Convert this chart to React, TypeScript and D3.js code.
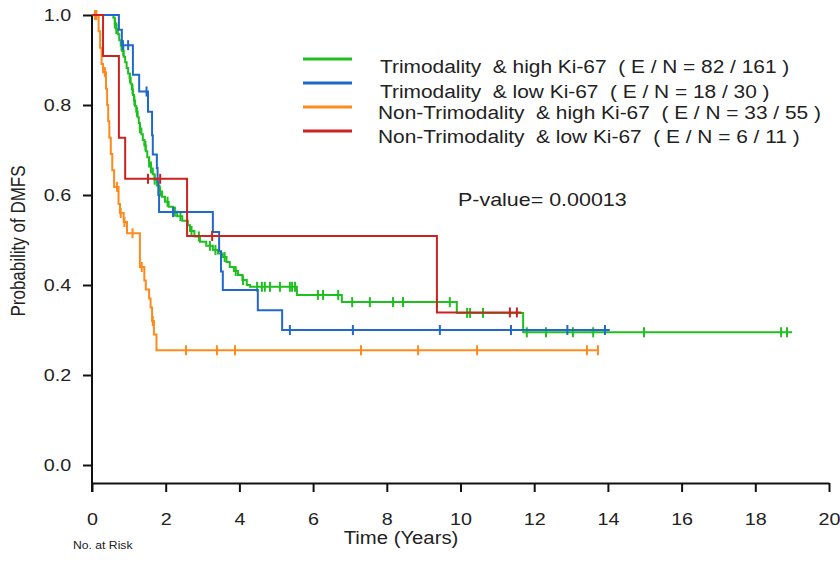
import { useEffect, useRef } from "react";
import * as d3 from "d3";

// Kaplan-Meier step points [time in years, survival]
const greenSteps: [number, number][] = [
  [0, 1], [0.58, 0.994], [0.62, 0.981], [0.66, 0.969], [0.7, 0.957], [0.74, 0.944], [0.78, 0.932],
  [0.82, 0.92], [0.86, 0.907], [0.9, 0.895], [0.94, 0.882], [0.98, 0.87], [1.02, 0.86], [1.05, 0.847],
  [1.08, 0.835], [1.11, 0.822], [1.14, 0.81], [1.17, 0.798], [1.2, 0.785], [1.24, 0.773], [1.27, 0.76],
  [1.3, 0.748], [1.34, 0.735], [1.38, 0.722], [1.42, 0.71], [1.46, 0.697], [1.5, 0.684], [1.55, 0.672],
  [1.6, 0.659], [1.65, 0.646], [1.7, 0.634], [1.76, 0.621], [1.83, 0.608], [1.9, 0.596], [1.98, 0.585],
  [2.08, 0.574], [2.2, 0.563], [2.31, 0.553], [2.45, 0.543], [2.6, 0.533], [2.66, 0.52], [2.78, 0.508],
  [2.93, 0.496], [3.1, 0.487], [3.28, 0.478], [3.42, 0.47], [3.55, 0.462], [3.65, 0.451], [3.74, 0.44],
  [3.85, 0.431], [3.96, 0.422], [4.08, 0.411], [4.2, 0.4], [4.29, 0.396], [5.56, 0.378], [6.78, 0.362],
  [9.9, 0.338], [11.7, 0.295],
];
const greenCensor = [
  0.62, 0.66, 0.8, 0.85, 1.03, 1.1, 1.15, 1.22, 1.3, 1.45, 1.55, 1.6, 1.7, 1.85, 2.05, 2.25, 2.4, 2.7,
  2.9, 3.2, 3.35, 3.6, 3.9, 4.1, 4.48, 4.61, 4.69, 4.83, 5.1, 5.37, 5.43, 5.51, 6.13, 6.27, 6.68, 7.06,
  7.54, 8.17, 8.44, 9.36, 9.71, 10.18, 10.26, 10.61, 11.8, 12.32, 13.05, 13.6, 14.98, 18.7, 18.86,
];
const greenEnd = 19.0;

const blueSteps: [number, number][] = [
  [0, 1], [0.73, 0.967], [0.81, 0.933], [1.11, 0.867], [1.28, 0.83], [1.52, 0.785], [1.63, 0.733],
  [1.65, 0.69], [1.76, 0.66], [1.78, 0.63], [1.8, 0.6], [1.82, 0.562], [3.28, 0.518], [3.45, 0.475],
  [3.5, 0.43], [3.55, 0.389], [4.5, 0.344], [5.16, 0.3],
];
const blueCensor = [0.84, 0.98, 1.48, 2.2, 5.37, 7.08, 9.44, 11.37, 12.9, 13.92];
const blueEnd = 14.05;

const orangeSteps: [number, number][] = [
  [0, 1], [0.18, 0.964], [0.22, 0.927], [0.26, 0.891], [0.3, 0.873], [0.38, 0.836], [0.41, 0.8],
  [0.44, 0.764], [0.47, 0.727], [0.51, 0.691], [0.55, 0.655], [0.6, 0.618], [0.72, 0.58], [0.76, 0.56],
  [0.86, 0.54], [0.95, 0.515], [1.3, 0.44], [1.42, 0.41], [1.46, 0.39], [1.55, 0.37], [1.59, 0.35],
  [1.63, 0.32], [1.68, 0.29], [1.75, 0.255],
];
const orangeCensor = [0.08, 0.12, 0.35, 0.68, 0.78, 0.88, 1.1, 1.35, 1.65, 2.55, 3.39, 3.88, 7.3, 8.85, 10.45, 13.43, 13.73];
const orangeEnd = 13.75;

const redSteps: [number, number][] = [
  [0, 1], [0.3, 0.909], [0.73, 0.727], [0.9, 0.636], [2.58, 0.509], [9.36, 0.339],
];
const redCensor = [1.52, 1.85, 3.26, 11.34, 11.53];
const redEnd = 11.65;

const legendLabels = [
  "Trimodality  & high Ki-67  ( E / N = 82 / 161 )",
  "Trimodality  & low Ki-67  ( E / N = 18 / 30 )",
  "Non-Trimodality  & high Ki-67  ( E / N = 33 / 55 )",
  "Non-Trimodality  & low Ki-67  ( E / N = 6 / 11 )",
];
const seriesColors = ["#1fbf1f", "#2068cc", "#ff8a1c", "#cc2222"];
const xTicks = [0, 2, 4, 6, 8, 10, 12, 14, 16, 18, 20];
const yTicks = [0, 0.2, 0.4, 0.6, 0.8, 1.0];

const STRETCH = 1.16; // text in the figure is a bit wide
const FONT = "'Liberation Sans', Arial, sans-serif";

export default function App() {
  const svgRef = useRef<SVGSVGElement>(null);

  useEffect(() => {
    const svg = d3.select(svgRef.current);
    svg.selectAll("*").remove();

    const x = d3.scaleLinear().domain([0, 20]).range([92, 829]);
    const y = d3.scaleLinear().domain([0, 1]).range([465, 15]);
    const axisY = 483;

    // axes
    const xAxis = svg.append("g")
      .attr("transform", `translate(0,${axisY})`)
      .call(d3.axisBottom(x).tickValues(xTicks).tickSize(9).tickSizeOuter(0).tickPadding(21).tickFormat(d3.format("d")));
    xAxis.select(".domain").attr("stroke", "#111").attr("stroke-width", 2);
    xAxis.selectAll(".tick line").attr("stroke", "#111").attr("stroke-width", 2);
    xAxis.selectAll(".tick text")
      .attr("fill", "#222").style("font-family", FONT).style("font-size", "17px")
      .attr("transform", `scale(${STRETCH},1)`);

    const yAxis = svg.append("g")
      .attr("transform", `translate(${x(0)},0)`)
      .call(d3.axisLeft(y).tickValues(yTicks).tickSize(9).tickSizeOuter(0).tickPadding(9).tickFormat(d3.format(".1f")));
    yAxis.select(".domain").remove();
    yAxis.selectAll(".tick line").attr("stroke", "#111").attr("stroke-width", 2);
    yAxis.selectAll(".tick text")
      .attr("fill", "#222").style("font-family", FONT).style("font-size", "17px")
      .attr("transform", `scale(${STRETCH},1)`);
    svg.append("line")
      .attr("x1", x(0)).attr("x2", x(0)).attr("y1", y(1)).attr("y2", axisY + 9)
      .attr("stroke", "#111").attr("stroke-width", 2);

    // curves
    const series = [
      { steps: greenSteps, censor: greenCensor, end: greenEnd },
      { steps: blueSteps, censor: blueCensor, end: blueEnd },
      { steps: orangeSteps, censor: orangeCensor, end: orangeEnd },
      { steps: redSteps, censor: redCensor, end: redEnd },
    ];
    const line = d3.line<[number, number]>()
      .x(d => x(d[0])).y(d => y(d[1]))
      .curve(d3.curveStepAfter);

    series.forEach((s, i) => {
      const pts: [number, number][] = [...s.steps, [s.end, s.steps[s.steps.length - 1][1]]];
      svg.append("path")
        .attr("d", line(pts))
        .attr("fill", "none")
        .attr("stroke", seriesColors[i])
        .attr("stroke-width", 2);
      // censor ticks sit on the curve value at that time
      const valueAt = (t: number) => {
        let v = 1;
        for (const [st, sv] of s.steps) if (st <= t) v = sv;
        return v;
      };
      svg.append("g").selectAll("line").data(s.censor).join("line")
        .attr("x1", d => x(d)).attr("x2", d => x(d))
        .attr("y1", d => y(valueAt(d)) - 5).attr("y2", d => y(valueAt(d)) + 5)
        .attr("stroke", seriesColors[i])
        .attr("stroke-width", 2);
    });

    // legend
    const legendLineY = [59, 83, 107, 131];
    const legendTextY = [73, 98, 119, 143];
    legendLabels.forEach((label, i) => {
      svg.append("line")
        .attr("x1", 303).attr("x2", 352)
        .attr("y1", legendLineY[i]).attr("y2", legendLineY[i])
        .attr("stroke", seriesColors[i]).attr("stroke-width", 3);
      svg.append("text")
        .attr("transform", `translate(${i < 2 ? 380 : 378},${legendTextY[i]}) scale(${STRETCH},1)`)
        .attr("fill", "#222").style("font-family", FONT).style("font-size", "18px")
        .style("white-space", "pre")
        .text(label);
    });

    svg.append("text")
      .attr("transform", `translate(458,206) scale(${STRETCH},1)`)
      .attr("fill", "#222").style("font-family", FONT).style("font-size", "18.5px")
      .text("P-value= 0.00013");

    // axis titles
    svg.append("text")
      .attr("transform", `translate(401,544) scale(${STRETCH},1)`)
      .attr("text-anchor", "middle")
      .attr("fill", "#222").style("font-family", FONT).style("font-size", "17.5px")
      .text("Time (Years)");

    svg.append("text")
      .attr("transform", `translate(25,241) scale(${STRETCH},1) rotate(-90)`)
      .attr("text-anchor", "middle")
      .attr("fill", "#222").style("font-family", FONT).style("font-size", "17px")
      .text("Probability of DMFS");

    svg.append("text")
      .attr("transform", `translate(73,549) scale(${STRETCH},1)`)
      .attr("fill", "#222").style("font-family", FONT).style("font-size", "10.5px")
      .text("No. at Risk");
  }, []);

  return (
    <svg
      ref={svgRef}
      width={840}
      height={578}
      style={{ position: "absolute", left: 0, top: 0, background: "#fff" }}
    />
  );
}
